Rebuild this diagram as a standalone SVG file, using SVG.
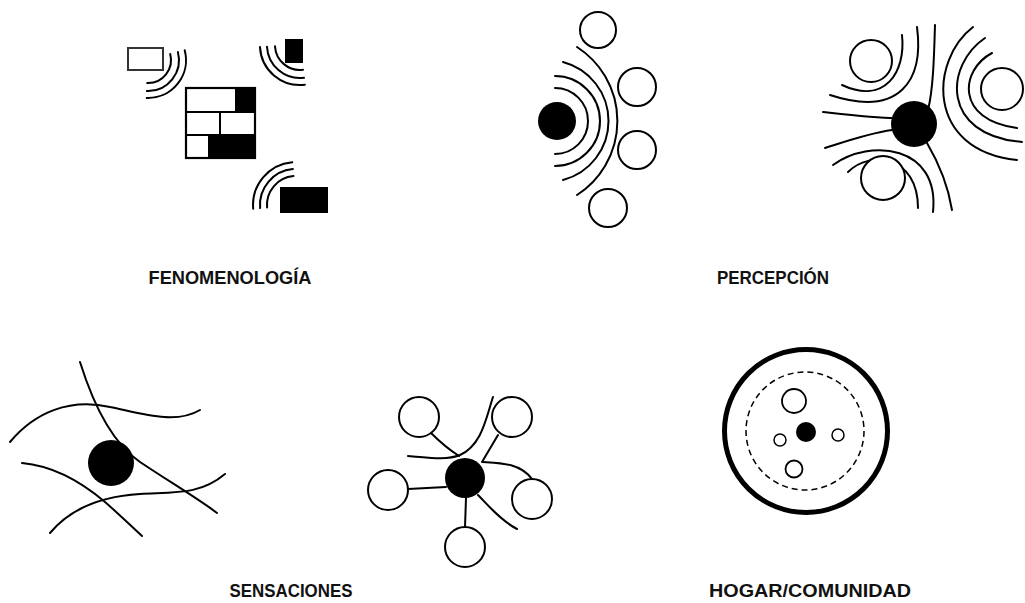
<svg xmlns="http://www.w3.org/2000/svg" width="1025" height="603" viewBox="0 0 1025 603">
<style>
.ln{fill:none;stroke:#000;stroke-width:2;stroke-linecap:round}
.oc{fill:#fff;stroke:#000;stroke-width:2}
.bk{fill:#000}
.lbl{font-family:"Liberation Sans",Arial,sans-serif;font-weight:bold;font-size:18.5px;fill:#111;text-anchor:middle}
</style>
<rect width="1025" height="603" fill="#fff"/>

<g id="fenomenologia">
  <g id="fen-waves" class="ln">
    <path d="M170.2,54 A23,23 0 0 1 147.2,83"/>
    <path d="M177.9,52 A31,31 0 0 1 146.9,91"/>
    <path d="M184.7,50.2 A38,38 0 0 1 146.7,98"/>
    <path d="M303,69.8 A25,25 0 0 1 275,46.3"/>
    <path d="M304,77.8 A33,33 0 0 1 267,46.7"/>
    <path d="M304.9,84.7 A40,40 0 0 1 260,47.1"/>
    <path d="M267.1,207.5 A29,29 0 0 1 293.5,176.1"/>
    <path d="M260.1,208.1 A36,36 0 0 1 292.9,169.1"/>
    <path d="M253.2,208.7 A43,43 0 0 1 292.3,162.2"/>
  </g>
  <rect id="fen-box-white" x="128" y="48" width="35" height="22" fill="#fff" stroke="#333" stroke-width="2"/>
  <rect id="fen-box-top" x="285" y="39" width="18" height="24" class="bk"/>
  <rect id="fen-box-bottom" x="280" y="187" width="48" height="26" class="bk"/>
  <g id="fen-grid">
    <rect x="236" y="88" width="19" height="24" class="bk"/>
    <rect x="209" y="135" width="46" height="23" class="bk"/>
    <rect x="186" y="88" width="69" height="70" fill="none" stroke="#000" stroke-width="2.2"/>
    <path d="M186,112 H255 M186,135 H255 M236,88 V112 M220,112 V135 M209,135 V158" stroke="#000" stroke-width="2" fill="none"/>
  </g>
  <text class="lbl" x="230" y="284" textLength="163" lengthAdjust="spacingAndGlyphs">FENOMENOLOGÍA</text>
</g>

<g id="percepcion">
  <g id="perc-left">
    <g class="ln">
      <path d="M555,88 A33,33 0 0 1 555,154"/>
      <path d="M555,76 A45,45 0 0 1 555,166"/>
      <path d="M563,62 A61,61 0 0 1 563,180"/>
      <path d="M577,47 A88,88 0 0 1 577,195"/>
    </g>
    <circle cx="557" cy="121" r="19" class="bk"/>
    <circle cx="598" cy="30" r="18" class="oc"/>
    <circle cx="637" cy="87" r="19" class="oc"/>
    <circle cx="637" cy="150" r="19" class="oc"/>
    <circle cx="608" cy="208" r="19" class="oc"/>
  </g>
  <g id="perc-right">
    <g class="ln">
      <path d="M992,53 C960,70 955,120 1017,128"/>
      <path d="M985,38 C945,65 940,135 1022,142"/>
      <path d="M973,27 C930,60 925,150 1017,160"/>
      <path d="M902,35 C906,72 885,105 842,85"/>
      <path d="M917,27 C924,80 900,118 830,95"/>
      <path d="M935,25 C934,60 933,90 928,110"/>
      <path d="M823,112 C850,115 875,118 895,118"/>
      <path d="M848,172 C870,150 918,155 918,208"/>
      <path d="M833,165 C870,138 940,145 933,212"/>
      <path d="M825,148 C850,140 870,133 892,130"/>
      <path d="M927,143 C937,160 948,185 952,210"/>
    </g>
    <circle cx="914" cy="124" r="23" class="bk"/>
    <circle cx="871" cy="61" r="21" class="oc"/>
    <circle cx="1002" cy="89" r="21" class="oc"/>
    <circle cx="883" cy="178" r="22" class="oc"/>
  </g>
  <text class="lbl" x="773" y="284" textLength="112" lengthAdjust="spacingAndGlyphs">PERCEPCIÓN</text>
</g>

<g id="sensaciones">
  <g id="sens-left">
    <g class="ln">
      <path d="M80,362 C95,410 115,445 140,462 C170,482 200,500 217,513"/>
      <path d="M10,442 C35,412 70,398 110,407 C140,413 175,425 200,410"/>
      <path d="M22,463 C55,466 85,485 105,502 C120,515 132,527 142,536"/>
      <path d="M50,533 C65,515 90,497 140,494 C175,492 200,495 225,474"/>
    </g>
    <circle cx="111" cy="463" r="23" class="bk"/>
  </g>
  <g id="sens-right">
    <g id="sens-connectors" class="ln">
      <path d="M431,433 Q445,447 459,456"/>
      <path d="M493,397 C486,418 482,445 460,455 C445,461 425,457 408,456"/>
      <path d="M498,435 L482,462"/>
      <path d="M483,462 C500,463 520,463 532,479"/>
      <path d="M408,489 L446,487"/>
      <path d="M466,498 L465,527"/>
      <path d="M478,495 C488,505 500,520 517,529"/>
    </g>
    <circle id="sens-hub" cx="465" cy="478" r="20" class="bk"/>
    <circle id="sens-n1" cx="419" cy="417" r="20" class="oc"/>
    <circle id="sens-n2" cx="512" cy="417" r="20" class="oc"/>
    <circle id="sens-n3" cx="388" cy="490" r="20" class="oc"/>
    <circle id="sens-n4" cx="532" cy="499" r="20" class="oc"/>
    <circle id="sens-n5" cx="465" cy="547" r="20" class="oc"/>
  </g>
  <text class="lbl" x="291" y="597" textLength="123" lengthAdjust="spacingAndGlyphs">SENSACIONES</text>
</g>

<g id="hogar">
  <circle cx="806" cy="431" r="81.5" fill="none" stroke="#000" stroke-width="5"/>
  <circle cx="805" cy="431" r="59" fill="none" stroke="#000" stroke-width="1.5" stroke-dasharray="6 4"/>
  <circle cx="794" cy="401" r="12" fill="#fff" stroke="#000" stroke-width="1.8"/>
  <circle cx="806" cy="432" r="10" class="bk"/>
  <circle cx="780" cy="440" r="6" fill="#fff" stroke="#000" stroke-width="1.5"/>
  <circle cx="838" cy="435" r="6" fill="#fff" stroke="#000" stroke-width="1.5"/>
  <circle cx="794" cy="469" r="8.5" fill="#fff" stroke="#000" stroke-width="1.8"/>
  <text class="lbl" x="810" y="597" textLength="202" lengthAdjust="spacingAndGlyphs">HOGAR/COMUNIDAD</text>
</g>
</svg>
